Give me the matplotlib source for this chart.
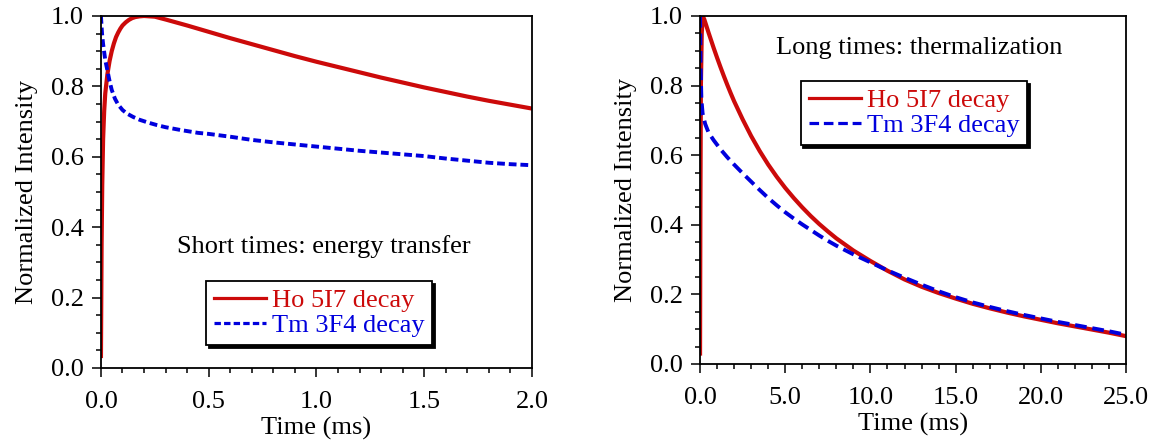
import numpy as np
import matplotlib
matplotlib.use("Agg")
from matplotlib import pyplot as plt
from matplotlib.ticker import MultipleLocator, FormatStrFormatter

plt.rcParams['font.family'] = ['Liberation Serif', 'DejaVu Serif']
plt.rcParams['font.size'] = 19

red = '#cc0a0a'
blue = '#0000dd'

# short times (left panel)
t_short_ho = [0, 0.003, 0.006, 0.01, 0.015, 0.02, 0.03, 0.04, 0.05, 0.06, 0.07, 0.08, 0.09,
              0.1, 0.115, 0.13, 0.145, 0.16, 0.18, 0.2, 0.25, 0.3, 0.4, 0.5, 0.6, 0.7, 0.8,
              0.9, 1.0, 1.1, 1.2, 1.3, 1.4, 1.5, 1.6, 1.7, 1.8, 1.9, 2.0]
ho_short = [0.034, 0.35, 0.52, 0.65, 0.73, 0.78, 0.835, 0.872, 0.9, 0.922, 0.94, 0.953, 0.964,
            0.973, 0.982, 0.989, 0.994, 0.997, 0.999, 1.0, 0.998, 0.99, 0.973, 0.955, 0.937,
            0.92, 0.903, 0.886, 0.87, 0.855, 0.84, 0.825, 0.811, 0.797, 0.784, 0.771, 0.759,
            0.748, 0.737]

t_short_tm = [0, 0.005, 0.01, 0.02, 0.03, 0.04, 0.05, 0.065, 0.08, 0.1, 0.12, 0.15, 0.18,
              0.22, 0.26, 0.3, 0.37, 0.45, 0.5, 0.6, 0.7, 0.8, 0.9, 1.0, 1.1, 1.2, 1.3, 1.4,
              1.5, 1.6, 1.7, 1.8, 1.9, 2.0]
tm_short = [1.0, 0.95, 0.92, 0.875, 0.845, 0.815, 0.79, 0.765, 0.748, 0.733, 0.723, 0.713,
            0.705, 0.697, 0.69, 0.684, 0.676, 0.668, 0.665, 0.657, 0.648, 0.641, 0.635, 0.629,
            0.623, 0.617, 0.612, 0.607, 0.602, 0.595, 0.589, 0.583, 0.579, 0.576]

# long times (right panel)
t_long_ho = [0, 0.02, 0.05, 0.1, 0.16, 0.25, 0.35, 0.5, 0.65, 0.8, 1.0, 1.2, 1.4, 1.6, 1.8,
             2.0, 2.5, 3.0, 3.5, 4.0, 4.5, 5.0, 5.5, 6.0, 6.5, 7.0, 7.5, 8.0, 9.0, 10.0,
             11.0, 12.0, 13.0, 14.0, 15.0, 16.0, 17.0, 18.0, 19.0, 20.0, 21.0, 22.0, 23.0,
             24.0, 25.0]
ho_long = [0.03, 0.45, 0.8, 0.95, 1.0, 0.99, 0.975, 0.952, 0.93, 0.908, 0.88, 0.853, 0.827,
           0.802, 0.778, 0.755, 0.703, 0.655, 0.612, 0.573, 0.538, 0.506, 0.477, 0.45,
           0.425, 0.402, 0.381, 0.361, 0.326, 0.296, 0.268, 0.243, 0.222, 0.204, 0.188,
           0.173, 0.16, 0.148, 0.137, 0.127, 0.117, 0.108, 0.099, 0.09, 0.08]

t_long_tm = [0, 0.03, 0.08, 0.15, 0.3, 0.5, 0.8, 1.2, 1.6, 2.0, 2.5, 3.0, 3.5, 4.0, 4.5, 5.0,
             5.5, 6.0, 6.5, 7.0, 7.5, 8.0, 9.0, 10.0, 11.0, 12.0, 13.0, 14.0, 15.0, 16.0,
             17.0, 18.0, 19.0, 20.0, 21.0, 22.0, 23.0, 24.0, 25.0]
tm_long = [1.0, 0.86, 0.76, 0.72, 0.69, 0.665, 0.643, 0.617, 0.594, 0.573, 0.548, 0.524,
           0.5, 0.477, 0.456, 0.436, 0.418, 0.401, 0.385, 0.369, 0.354, 0.34, 0.315, 0.292,
           0.269, 0.248, 0.228, 0.209, 0.192, 0.177, 0.164, 0.152, 0.141, 0.131, 0.121,
           0.112, 0.103, 0.094, 0.084]

labels = ['Ho 5I7 decay', 'Tm 3F4 decay']


def style_axes(ax, xmax, xmajor, xminor):
    ax.set_xlim(0, xmax)
    ax.set_ylim(0, 1.0)
    ax.xaxis.set_major_locator(MultipleLocator(xmajor))
    ax.xaxis.set_minor_locator(MultipleLocator(xminor))
    ax.yaxis.set_major_locator(MultipleLocator(0.2))
    ax.yaxis.set_minor_locator(MultipleLocator(0.05))
    ax.xaxis.set_major_formatter(FormatStrFormatter('%.1f'))
    ax.yaxis.set_major_formatter(FormatStrFormatter('%.1f'))
    ax.tick_params(which='major', direction='out', length=6.5, width=1.1, pad=10, labelsize=19)
    ax.tick_params(which='minor', direction='out', length=3.6, width=1.1)
    ax.tick_params(axis='y', which='major', pad=6)
    for s in ax.spines.values():
        s.set_linewidth(1.3)
    ax.set_xlabel('Time (ms)', fontsize=19, labelpad=3)
    ax.set_ylabel('Normalized Intensity', fontsize=19, labelpad=9)


def add_legend(ax, center):
    leg = ax.legend(labels, loc='center', bbox_to_anchor=center, fontsize=19,
                    frameon=True, fancybox=False, framealpha=1, edgecolor='black',
                    shadow={'color': 'black', 'alpha': 1}, handlelength=2.0,
                    handletextpad=0.2, borderpad=0.3, labelspacing=0.05,
                    labelcolor='linecolor', borderaxespad=0)
    leg.get_frame().set_linewidth(1.3)
    for line in leg.get_lines():
        line.set_linewidth(2.3)
    return leg


fig = plt.figure(figsize=(11.55, 4.44), dpi=100)

ax1 = fig.add_axes([0.0874, 0.1712, 0.3732, 0.7928])
ax1.plot(t_short_ho, ho_short, color=red, lw=3.0, solid_joinstyle='round')
ax1.plot(t_short_tm, tm_short, color=blue, lw=2.8, linestyle=(0, (2, 1)))
style_axes(ax1, 2.0, 0.5, 0.1)
ax1.text(0.517, 0.344, 'Short times: energy transfer', transform=ax1.transAxes,
         ha='center', va='center', fontsize=19)
add_legend(ax1, (0.506, 0.156))

ax2 = fig.add_axes([0.6061, 0.1802, 0.3688, 0.7838])
ax2.plot(t_long_ho, ho_long, color=red, lw=3.0, solid_joinstyle='round')
ax2.plot(t_long_tm, tm_long, color=blue, lw=2.8, linestyle=(0, (3, 1.5)))
style_axes(ax2, 25.0, 5.0, 1.0)
ax2.text(0.514, 0.908, 'Long times: thermalization', transform=ax2.transAxes,
         ha='center', va='center', fontsize=19)
add_legend(ax2, (0.502, 0.721))

fig.savefig('out.png', dpi=100)
